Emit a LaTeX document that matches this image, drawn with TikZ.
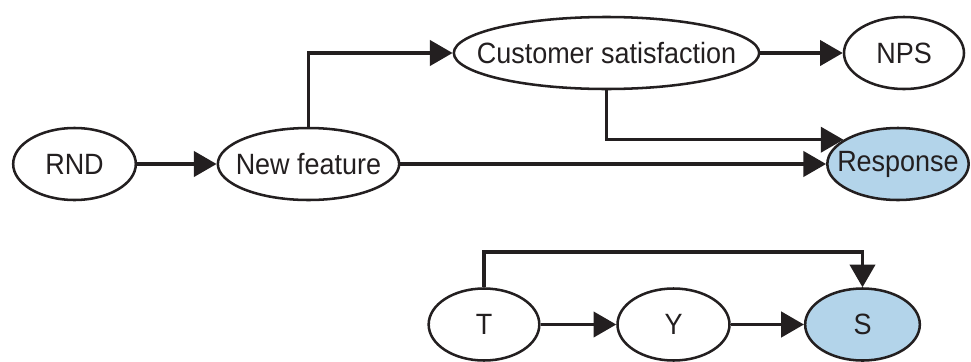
\documentclass[tikz,border=0pt]{standalone}
\usepackage{fontspec}
\setmainfont[FakeStretch=0.92]{Liberation Sans}
\usetikzlibrary{shapes.geometric,arrows.meta,calc}
\definecolor{ink}{HTML}{231F20}
\definecolor{resp}{HTML}{B3D4EA}
\newcommand{\lbl}[1]{\makebox[0pt]{#1}}
\begin{document}
\begin{tikzpicture}[x=0.75pt,y=-0.75pt,
  nodebox/.style={ellipse,draw=ink,line width=1.9pt,inner sep=0pt,text=ink,
     font=\fontsize{22}{24}\selectfont,minimum height=54pt},
  arr/.style={draw=ink,line width=2.3pt,-{Triangle[length=17pt,width=19pt]}}]
\useasboundingbox (0,0) rectangle (971,361);
\node[nodebox,minimum width=92pt] (rnd) at (74.5,164) {\lbl{RND}};
\node[nodebox,minimum width=136pt] (nf) at (308.5,164) {\lbl{New feature}};
\node[nodebox,minimum width=229pt] (cs) at (606.5,53) {\lbl{Customer satisfaction}};
\node[nodebox,minimum width=90pt] (nps) at (904,53) {\lbl{NPS}};
\node[nodebox,fill=resp,minimum width=106pt] (resp) at (898,164) {\lbl{Response}};
\node[nodebox,minimum width=83pt] (t) at (484,324.5) {\lbl{T}};
\node[nodebox,minimum width=84pt] (y) at (673.5,324.5) {\lbl{Y}};
\node[nodebox,fill=resp,minimum width=86pt] (s) at (862.5,324.5) {\lbl{S}};
\draw[arr] (rnd) -- (nf);
\draw[arr] (nf.north) |- (cs.west);
\draw[arr] (cs) -- (nps);
\draw[arr] (cs.south) |- (resp.156);
\draw[arr] (nf) -- (resp);
\coordinate (ttop) at (484,252);
\draw[arr] (t.north) -- (ttop) -| (s.north);
\draw[arr] (t) -- (y);
\draw[arr] (y) -- (s);
\end{tikzpicture}
\end{document}
